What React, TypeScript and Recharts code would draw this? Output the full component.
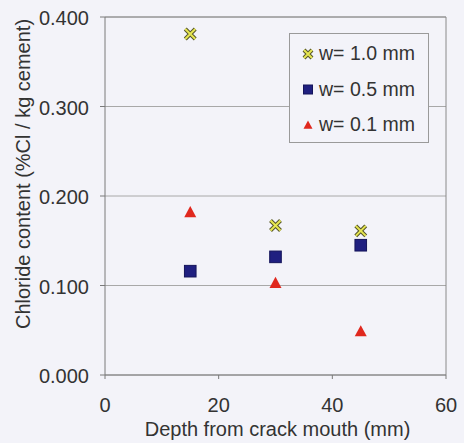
import React from "react";
import { ScatterChart, Scatter, XAxis, YAxis, CartesianGrid, ReferenceLine, Legend } from "recharts";

const depths = [15, 30, 45];
const w10 = [0.381, 0.167, 0.161];
const w05 = [0.116, 0.132, 0.145];
const w01 = [0.182, 0.103, 0.049];
const xTicks = [0, 20, 40, 60];
const yTicks = [0, 0.1, 0.2, 0.3, 0.4];
const seriesNames = ["w= 1.0 mm", "w= 0.5 mm", "w= 0.1 mm"];

const BG = "#f3f3f9";
const FONT = "'Liberation Sans', Arial, sans-serif";
const TEXT = "#333";
const AXIS = "#7a7a7a";

const toPoints = (vals: number[]) => depths.map((x, i) => ({ x, y: vals[i] }));

function XMark({ cx, cy, r = 5 }: any) {
  const d = `M${cx - r},${cy - r}L${cx + r},${cy + r}M${cx - r},${cy + r}L${cx + r},${cy - r}`;
  return (
    <g>
      <path d={d} stroke="#55552a" strokeWidth={4} />
      <path d={d} stroke="#e6e650" strokeWidth={2} />
    </g>
  );
}

function Square({ cx, cy, r = 5.5 }: any) {
  return <rect x={cx - r} y={cy - r} width={r * 2} height={r * 2} fill="#1f1f80" stroke="#14145a" strokeWidth={1} />;
}

function Triangle({ cx, cy, r = 6 }: any) {
  return <polygon points={`${cx},${cy - r} ${cx + r},${cy + r * 0.85} ${cx - r},${cy + r * 0.85}`} fill="#e0281e" />;
}

function XTick({ x, y, payload }: any) {
  return (
    <text x={x} y={y} dy={33} textAnchor="middle" fontSize={20} fontFamily={FONT} fill={TEXT}>
      {payload.value}
    </text>
  );
}

function YTick({ x, y, payload }: any) {
  return (
    <text x={x} y={y} dy={8} textAnchor="end" fontSize={20} fontFamily={FONT} fill={TEXT}>
      {Number(payload.value).toFixed(3)}
    </text>
  );
}

// legend box sits inside the plot, top right
function LegendBox() {
  const icons = [XMark, Square, Triangle];
  return (
    <svg width={140} height={110} style={{ display: "block" }}>
      <rect x={0.5} y={0.5} width={139} height={109} fill={BG} stroke="#9a9a9a" />
      {seriesNames.map((name, i) => {
        const Icon = icons[i];
        const base = 27 + i * 35.5;
        return (
          <g key={name}>
            <Icon cx={19} cy={base - 6} r={i === 0 ? 4 : 4.5} />
            <text x={30} y={base} fontSize={19.5} fontFamily={FONT} fill={TEXT}>
              {name}
            </text>
          </g>
        );
      })}
    </svg>
  );
}

export default function App() {
  return (
    <div style={{ position: "absolute", left: 0, top: 0, width: 464, height: 443, background: BG }}>
      <ScatterChart width={464} height={443} margin={{ top: 17, right: 18, bottom: 0, left: 0 }}>
        <CartesianGrid horizontal vertical={false} stroke="#a8a8a8" />
        <XAxis
          type="number"
          dataKey="x"
          domain={[0, 60]}
          ticks={xTicks}
          height={68}
          tickSize={4}
          tickMargin={0}
          stroke={AXIS}
          tick={<XTick />}
          label={{
            content: (p: any) => (
              <text
                x={p.viewBox.x + p.viewBox.width / 2 + 2}
                y={436}
                textAnchor="middle"
                fontSize={20}
                fontFamily={FONT}
                fill={TEXT}
              >
                Depth from crack mouth (mm)
              </text>
            ),
          }}
        />
        <YAxis
          type="number"
          dataKey="y"
          domain={[0, 0.4]}
          ticks={yTicks}
          width={105}
          tickSize={5}
          tickMargin={11}
          stroke={AXIS}
          tick={<YTick />}
          label={{
            content: (p: any) => {
              const cy = p.viewBox.y + p.viewBox.height / 2 - 22;
              return (
                <text
                  transform={`translate(30,${cy}) rotate(-90)`}
                  textAnchor="middle"
                  fontSize={20}
                  fontFamily={FONT}
                  fill={TEXT}
                >
                  Chloride content (%Cl / kg cement)
                </text>
              );
            },
          }}
        />
        <ReferenceLine x={60} stroke="#8a8a8a" />
        <ReferenceLine y={0.4} stroke="#8a8a8a" />
        <Scatter name={seriesNames[0]} data={toPoints(w10)} shape={<XMark r={5} />} isAnimationActive={false} />
        <Scatter name={seriesNames[1]} data={toPoints(w05)} shape={<Square r={5.8} />} isAnimationActive={false} />
        <Scatter name={seriesNames[2]} data={toPoints(w01)} shape={<Triangle r={6} />} isAnimationActive={false} />
        <Legend
          layout="vertical"
          align="center"
          verticalAlign="middle"
          content={<LegendBox />}
          wrapperStyle={{ left: 289, top: 33, width: 140, height: 110 }}
        />
      </ScatterChart>
    </div>
  );
}
